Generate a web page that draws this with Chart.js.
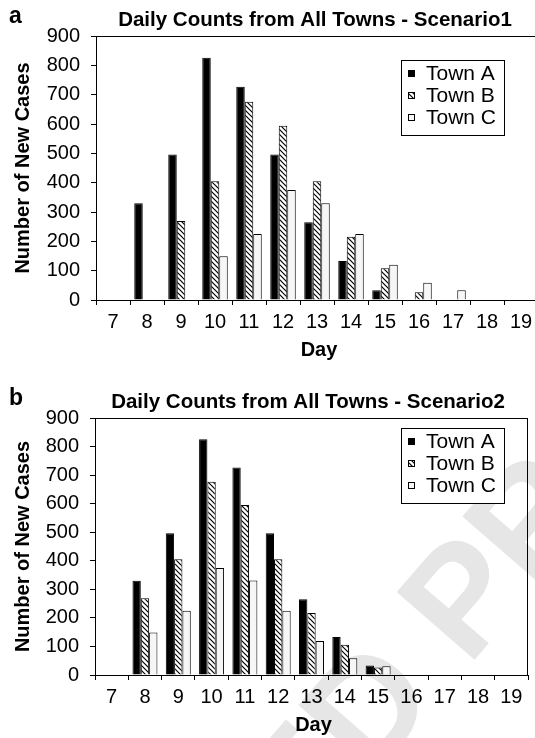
<!DOCTYPE html>
<html>
<head>
<meta charset="utf-8">
<script src="https://cdn.jsdelivr.net/npm/chart.js@4.4.1/dist/chart.umd.min.js"></script>
<style>
    html, body { margin: 0; padding: 0; background: #fff; overflow: hidden; }
    canvas { position: absolute; left: 0; }
    #chartA { top: 0; }
    #chartB { top: 369px; }
</style>
</head>
<body>
<canvas id="chartA" width="545" height="369"></canvas>
<canvas id="chartB" width="535" height="369"></canvas>
<script>
const days = ['7', '8', '9', '10', '11', '12', '13', '14', '15', '16', '17', '18', '19'];
const townNames = ['Town A', 'Town B', 'Town C'];

const scenario1TownA = [0, 330, 496, 826, 727, 496, 265, 133, 33, 0, 0, 0, 0];
const scenario1TownB = [0, 0, 269, 405, 676, 594, 405, 216, 108, 26, 0, 0, 0];
const scenario1TownC = [0, 0, 0, 149, 225, 375, 330, 225, 120, 59, 33, 0, 0];

const scenario2TownA = [0, 330, 496, 826, 727, 496, 265, 133, 33, 0, 0, 0, 0];
const scenario2TownB = [0, 269, 405, 677, 595, 405, 217, 106, 26, 0, 0, 0, 0];
const scenario2TownC = [0, 149, 225, 375, 331, 225, 119, 59, 31, 0, 0, 0, 0];

const yTicks = [0, 100, 200, 300, 400, 500, 600, 700, 800, 900];

const FONT = "'Liberation Sans', Arial, sans-serif";

const makeHatch = () => {
    const tile = document.createElement('canvas');
    tile.width = 5;
    tile.height = 5;
    const c = tile.getContext('2d');
    c.fillStyle = '#fff';
    c.fillRect(0, 0, 5, 5);
    c.strokeStyle = '#000';
    c.lineWidth = 1.2;
    c.beginPath();
    c.moveTo(-1, -1); c.lineTo(6, 6);
    c.moveTo(-1, 4); c.lineTo(1, 6);
    c.moveTo(4, -1); c.lineTo(6, 1);
    c.stroke();
    return c.createPattern(tile, 'repeat');
};
const hatch = makeHatch();
const fills = ['#000', hatch, '#f6f6f6'];

// faint proof stamp behind panel b
const stampPlugin = {
    id: 'stamp',
    beforeDraw(chart) {
        const o = chart.options.plugins.stamp;
        if (!o || !o.show) return;
        const { ctx } = chart;
        ctx.save();
        ctx.font = `bold 150px ${FONT}`;
        const angle = -49 * Math.PI / 180;
        const lead = ctx.measureText('UNCORRECT').width;
        ctx.translate(304, 856 - 369);
        ctx.rotate(angle);
        ctx.fillStyle = '#e6e6e6';
        ctx.textBaseline = 'alphabetic';
        ctx.fillText('UNCORRECTED PROOF', -lead, 0);
        ctx.restore();
    }
};

// frame, titles, legend
const decorPlugin = {
    id: 'decor',
    afterDraw(chart) {
        const { ctx, chartArea: a } = chart;
        const o = chart.options.plugins.decor;
        ctx.save();
        ctx.strokeStyle = '#000';
        ctx.lineWidth = 1;
        ctx.beginPath();
        ctx.moveTo(a.left, a.top + 0.5);
        ctx.lineTo(a.right, a.top + 0.5);
        ctx.moveTo(a.right - 0.5, a.top);
        ctx.lineTo(a.right - 0.5, a.bottom);
        ctx.stroke();

        ctx.fillStyle = '#000';
        ctx.textBaseline = 'middle';
        ctx.textAlign = 'left';
        ctx.font = `bold 23px ${FONT}`;
        ctx.fillText(o.letter, 9, a.top - 19);

        ctx.textAlign = 'center';
        ctx.font = `bold 20.5px ${FONT}`;
        ctx.fillText(o.title, o.titleX, a.top - 16);

        ctx.font = `bold 20px ${FONT}`;
        ctx.fillText('Day', (a.left + a.right) / 2 + 2, a.bottom + 50);

        ctx.save();
        ctx.translate(23, (a.top + a.bottom) / 2);
        ctx.rotate(-Math.PI / 2);
        ctx.fillText('Number of New Cases', 0, 0);
        ctx.restore();

        // legend
        const lx = 401, ly = o.legendTop, lw = 103, lh = 75;
        ctx.fillStyle = '#fff';
        ctx.fillRect(lx, ly, lw, lh);
        ctx.strokeRect(lx + 0.5, ly + 0.5, lw, lh);
        ctx.textAlign = 'left';
        ctx.font = `21px ${FONT}`;
        chart.data.datasets.forEach((ds, i) => {
            const cy = ly + 13 + i * 22;
            ctx.fillStyle = ds.backgroundColor;
            ctx.fillRect(408, cy - 3, 6, 6);
            ctx.strokeStyle = '#000';
            ctx.strokeRect(408.5, cy - 2.5, 6, 6);
            ctx.fillStyle = '#000';
            ctx.fillText(ds.label, 426, cy + 1);
        });
        ctx.restore();
    }
};

const buildChart = (id, series, opts) => {
    const ctx = document.getElementById(id).getContext('2d');
    return new Chart(ctx, {
        type: 'bar',
        data: {
            labels: days,
            datasets: series.map((values, i) => ({
                label: townNames[i],
                data: values,
                backgroundColor: fills[i],
                borderColor: '#000',
                borderWidth: 1,
                borderSkipped: 'bottom',
                categoryPercentage: 0.75,
                barPercentage: 1.0,
            })),
        },
        options: {
            responsive: false,
            animation: false,
            devicePixelRatio: 1,
            layout: { padding: { top: opts.top, right: opts.right, left: 0, bottom: 0 } },
            plugins: {
                legend: { display: false },
                tooltip: { enabled: false },
                stamp: { show: opts.stamp },
                decor: { letter: opts.letter, title: opts.title, titleX: opts.titleX, legendTop: opts.legendTop },
            },
            scales: {
                x: {
                    grid: { display: true, drawOnChartArea: false, drawTicks: true, tickLength: 5, color: '#000', offset: true },
                    border: { display: true, color: '#000', width: 1 },
                    ticks: { color: '#000', padding: 5, font: { family: FONT, size: 20 }, maxRotation: 0, autoSkip: false },
                    afterFit: (scale) => { scale.height = opts.xHeight; },
                },
                y: {
                    min: 0,
                    max: 900,
                    afterBuildTicks: (scale) => { scale.ticks = yTicks.map(v => ({ value: v })); },
                    grid: { display: true, drawOnChartArea: false, drawTicks: true, tickLength: 5, color: '#000' },
                    border: { display: true, color: '#000', width: 1 },
                    ticks: { color: '#000', padding: 11, font: { family: FONT, size: 20 } },
                    afterFit: (scale) => { scale.width = opts.yWidth; },
                },
            },
        },
        plugins: [stampPlugin, decorPlugin],
    });
};

buildChart('chartA', [scenario1TownA, scenario1TownB, scenario1TownC], {
    letter: 'a', title: 'Daily Counts from All Towns - Scenario1', titleX: 315,
    top: 36, right: 7, xHeight: 69, yWidth: 96, legendTop: 60, stamp: false,
});
buildChart('chartB', [scenario2TownA, scenario2TownB, scenario2TownC], {
    letter: 'b', title: 'Daily Counts from All Towns - Scenario2', titleX: 308,
    top: 49, right: 7, xHeight: 63, yWidth: 95, legendTop: 59, stamp: true,
});
</script>
</body>
</html>
